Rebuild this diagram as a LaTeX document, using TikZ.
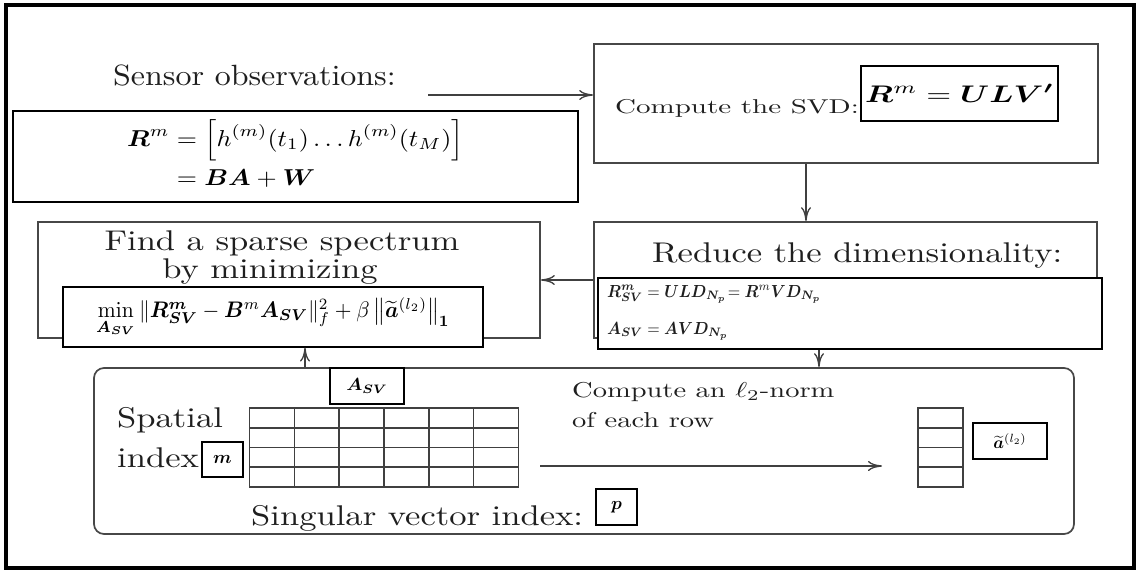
\documentclass[tikz,border=0pt]{standalone}
\usepackage{amsmath,bm}
\usetikzlibrary{arrows.meta}
% text stretched to the drawing's pixel grid
\newcommand{\LargeLbl}[1]{\scalebox{3.46}[2.85]{#1}}
\newcommand{\SmallLbl}[1]{\scalebox{2.85}[2.15]{#1}}
\newcommand{\EqLbl}[3]{\scalebox{#1}[#2]{#3}}

\begin{document}
\begin{tikzpicture}[x=1pt,y=-1pt,
  flow/.style={draw=black!72, line width=1.7pt, fill=white, inner sep=0pt},
  eqbox/.style={draw=black, line width=1.1pt, fill=white, inner sep=0pt},
  lbl/.style={inner sep=0pt, text=black!88},
  arr/.style={draw=black!75, line width=1.3pt, -{To[length=14pt,width=10pt]}},
  cell/.style={draw=black!75, line width=1.6pt, line cap=rect}
]
\useasboundingbox (0,0) rectangle (1145,571);
\fill[white] (0,0) rectangle (1145,571);
\draw[line width=4pt] (6,5) rectangle (1134,568);

% --- top row: observations and SVD
\node[flow, minimum width=504pt, minimum height=119pt] (svd) at (846,103.5) {};
\node[lbl, anchor=base west] (svdT) at (615,113) {\scalebox{2.9}[2.0]{Compute the SVD:}};
\node[eqbox, minimum width=197pt, minimum height=55pt] (ulv) at (959.5,93.5)
  {\EqLbl{3.2}{2.4}{$\bm{R}^m = \bm{ULV'}$}};

\node[lbl, anchor=base west] (obsT) at (113,85) {\scalebox{3.2}[2.93]{Sensor observations:}};
\node[eqbox, minimum width=565pt, minimum height=91pt] (obs) at (295.5,156.5)
  {\EqLbl{2.6}{2.3}{$\begin{aligned}\bm{R}^m &= \left[h^{(m)}(t_1)\dots h^{(m)}(t_M)\right]\\[-2pt] &= \bm{BA}+\bm{W}\end{aligned}$}};

% --- middle row: reduction and sparse spectrum
\node[flow, minimum width=503pt, minimum height=116pt] (reduce) at (845.5,280) {};
\node[lbl, anchor=base west] (redT) at (652,262) {\LargeLbl{Reduce the dimensionality:}};
\node[eqbox, minimum width=504pt, minimum height=71pt] (rsv) at (850,313.5) {};
\node[lbl, anchor=base west] (rsv1) at (607,297)
  {\EqLbl{1.6}{1.75}{$\bm{R}^{\bm m}_{\bm{SV}} = \bm{ULD}_{\bm{N_p}}\!=\bm{R}^m\bm{VD}_{\bm{N_p}}$}};
\node[lbl, anchor=base west] (rsv2) at (607,334)
  {\EqLbl{1.6}{1.75}{$\bm{A}_{\bm{SV}} = \bm{AVD}_{\bm{N_p}}$}};

\node[flow, minimum width=502pt, minimum height=116pt] (find) at (289,280) {};
\node[lbl, anchor=base] (findT1) at (282,250) {\LargeLbl{Find a sparse spectrum}};
\node[lbl, anchor=base] (findT2) at (270,278) {\LargeLbl{by minimizing}};
\node[eqbox, minimum width=420pt, minimum height=60pt] (minb) at (273,317)
  {\EqLbl{2.15}{2.25}{$\min\limits_{\bm{A_{SV}}} \|\bm{R^m_{SV}} - \bm{B}^m \bm{A_{SV}}\|_f^2 + \beta\left\|\widetilde{\bm{a}}^{(l_2)}\right\|_{\bm 1}$}};

% --- bottom panel: coefficient matrix and row norms
\node[draw=black!72, line width=1.7pt, rounded corners=10pt, minimum width=980pt,
  minimum height=166pt, inner sep=0pt] (panel) at (584,451) {};
\node[eqbox, minimum width=74pt, minimum height=36pt] (asv) at (367,386)
  {\EqLbl{1.85}{1.75}{$\bm{A}_{\bm{SV}}$}};
\node[lbl, anchor=base west] (spT) at (117,427) {\LargeLbl{Spatial}};
\node[lbl, anchor=base west] (idxT) at (117,467) {\LargeLbl{index}};
\node[eqbox, minimum width=41pt, minimum height=35pt] (mbox) at (222.5,459.5)
  {\EqLbl{1.8}{1.8}{$\bm{m}$}};

\foreach \i in {0,...,6} \draw[cell] ({249.5+\i*44.83},408) -- ({249.5+\i*44.83},487);
\foreach \j in {0,...,4} \draw[cell] (249.5,{408+\j*19.75}) -- (518.5,{408+\j*19.75});

\foreach \i in {0,1} \draw[cell] ({918+\i*45},408) -- ({918+\i*45},487);
\foreach \j in {0,...,4} \draw[cell] (918,{408+\j*19.75}) -- (963,{408+\j*19.75});
\node[eqbox, minimum width=74pt, minimum height=36pt] (abox) at (1010,441)
  {\EqLbl{1.7}{1.7}{$\widetilde{\bm a}^{(l_2)}$}};

\node[lbl, anchor=base west] (l2T1) at (572,397) {\SmallLbl{Compute an $\ell_2$-norm}};
\node[lbl, anchor=base west] (l2T2) at (572,427) {\SmallLbl{of each row}};
\node[lbl, anchor=base west] (svT) at (251,525) {\LargeLbl{Singular vector index:}};
\node[eqbox, minimum width=41pt, minimum height=36pt] (pbox) at (616.5,507)
  {\EqLbl{1.8}{1.8}{$\bm{p}$}};

% --- connectors
\coordinate (obsStart) at (428,95);
\draw[arr] (obsStart) -- (obsStart -| svd.west);
\coordinate (svdX) at (806,0);
\draw[arr] (svd.south -| svdX) -- (reduce.north -| svdX);
\draw[arr] (reduce.west) -- (find.east);
\coordinate (rsvX) at (819,0);
\draw[arr] (rsv.south -| rsvX) -- (panel.north -| rsvX);
\coordinate (upX) at (305,0);
\draw[arr] (panel.north -| upX) -- (minb.south -| upX);
\coordinate (normA) at (540,466);
\coordinate (normB) at (882,466);
\draw[arr] (normA) -- (normB);
\end{tikzpicture}
\end{document}
